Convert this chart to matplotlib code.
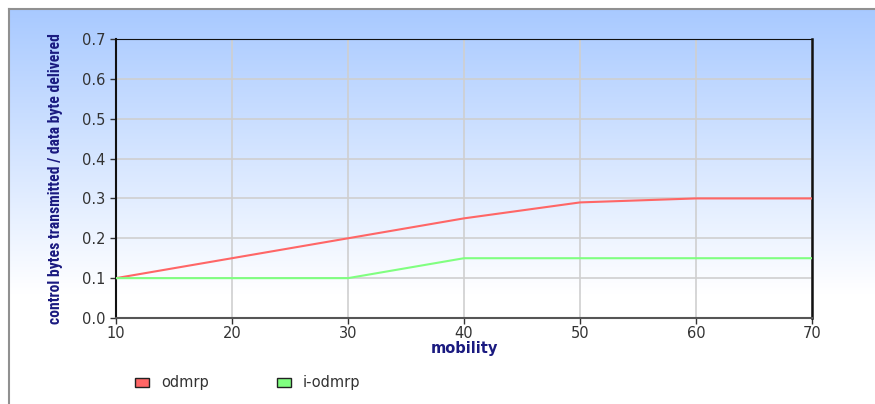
import matplotlib
matplotlib.use("Agg")
import matplotlib.pyplot as plt
import numpy as np
from matplotlib import font_manager
from matplotlib.patches import Rectangle

# data
mobility = [10, 20, 30, 40, 50, 60, 70]
odmrp = [0.10, 0.15, 0.20, 0.25, 0.29, 0.30, 0.30]
i_odmrp = [0.10, 0.10, 0.10, 0.15, 0.15, 0.15, 0.15]
y_ticks = [0.0, 0.1, 0.2, 0.3, 0.4, 0.5, 0.6, 0.7]


def weight_num(w):
    names = {"normal": 400, "regular": 400, "book": 400, "medium": 500,
             "semibold": 600, "demibold": 600, "bold": 700, "heavy": 800,
             "extra bold": 800, "black": 900}
    return w if isinstance(w, int) else names.get(str(w).lower(), 400)


# a narrow bold face for the y label, if one is installed
narrow = [f for f in font_manager.fontManager.ttflist
          if ("Narrow" in f.name or "Condensed" in f.name) and f.style == "normal"]
pref = ["Liberation Sans Narrow", "Roboto Condensed", "Noto Sans"]


def rank(f):
    p = next((i for i, n in enumerate(pref) if f.name.startswith(n)), len(pref))
    return (abs(weight_num(f.weight) - 700), p, f.fname)


ylab_font = None
if narrow:
    best = sorted(narrow, key=rank)[0]
    ylab_font = font_manager.FontProperties(fname=best.fname)
    ylab_bold = weight_num(best.weight) >= 600

W, H = 875, 404
fig = plt.figure(figsize=(W / 100, H / 100), dpi=100)

# background gradient panel with grey frame on top/left
bg = fig.add_axes([9 / W, 0, 1 - 9 / W, 1 - 9 / H], zorder=-10)
top = np.array([0.66, 0.79, 1.0])
rows = 400
t = np.clip(np.linspace(0, 1, rows) / 0.72, 0, 1)[:, None]
grad = top[None, :] * (1 - t) + np.ones(3)[None, :] * t
bg.imshow(grad[:, None, :], aspect="auto", extent=[0, 1, 0, 1], origin="upper")
bg.set_xlim(0, 1)
bg.set_ylim(0, 1)
bg.set_xticks([])
bg.set_yticks([])
for s in ("right", "bottom"):
    bg.spines[s].set_visible(False)
for s in ("top", "left"):
    bg.spines[s].set_color("#909090")
    bg.spines[s].set_linewidth(1.5)

ax = fig.add_axes([116 / W, 1 - 318 / H, 696 / W, 279 / H])
ax.patch.set_alpha(0)
ax.plot(mobility, odmrp, color="#ff6666", lw=1.5, zorder=3)
ax.plot(mobility, i_odmrp, color="#80ff80", lw=1.5, zorder=3)

ax.set_xlim(10, 70)
ax.set_ylim(0, 0.7)
ax.set_xticks(mobility)
ax.set_yticks(y_ticks)
ax.set_yticklabels([f"{v:.1f}" for v in y_ticks])
ax.grid(True, color="#cfcfcf", lw=1.2)
ax.set_axisbelow(True)
ax.tick_params(direction="out", length=4, width=1, colors="#333333",
               labelsize=10.5, labelcolor="#333333")
ax.tick_params(axis="x", pad=2)
for lab in ax.get_xticklabels() + ax.get_yticklabels():
    lab.set_family("DejaVu Sans")
ax.spines["left"].set_color("#111111")
ax.spines["left"].set_linewidth(1.5)
ax.spines["bottom"].set_color("#555555")
ax.spines["bottom"].set_linewidth(1.5)
ax.spines["top"].set_color("#111111")
ax.spines["right"].set_color("#111111")
ax.spines["right"].set_linewidth(1.8)

ax.set_xlabel("mobility", color="#1a1a80", fontsize=10.5, fontweight="bold",
              family="DejaVu Sans", labelpad=0)
label = "control bytes transmitted / data byte delivered"
if ylab_font is not None:
    ylab = ax.set_ylabel(label, color="#1a1a80", fontproperties=ylab_font)
    if not ylab_bold:
        ylab.set_fontweight("bold")
else:
    ylab = ax.set_ylabel(label, color="#1a1a80", fontweight="bold",
                         family="Liberation Sans")
ylab.set_fontsize(10)
ax.yaxis.set_label_coords(-0.076, 0.5)

# scale the y label so it spans roughly the same height as in the reference
fig.canvas.draw()
ext = ylab.get_window_extent()
ylab.set_fontsize(min(15, 10 * 292 / ext.height))

# legend at bottom-left
for x0, color, name in [(135, "#ff6666", "odmrp"), (277, "#80ff80", "i-odmrp")]:
    fig.patches.append(Rectangle((x0 / W, 1 - 387 / H), 14 / W, 9 / H,
                                 transform=fig.transFigure, facecolor=color,
                                 edgecolor="#222222", lw=1))
    fig.text((x0 + 26) / W, 1 - 382 / H, name, fontsize=10.5, color="#333333",
             va="center", family="DejaVu Sans")

fig.savefig("out.png", dpi=100)
